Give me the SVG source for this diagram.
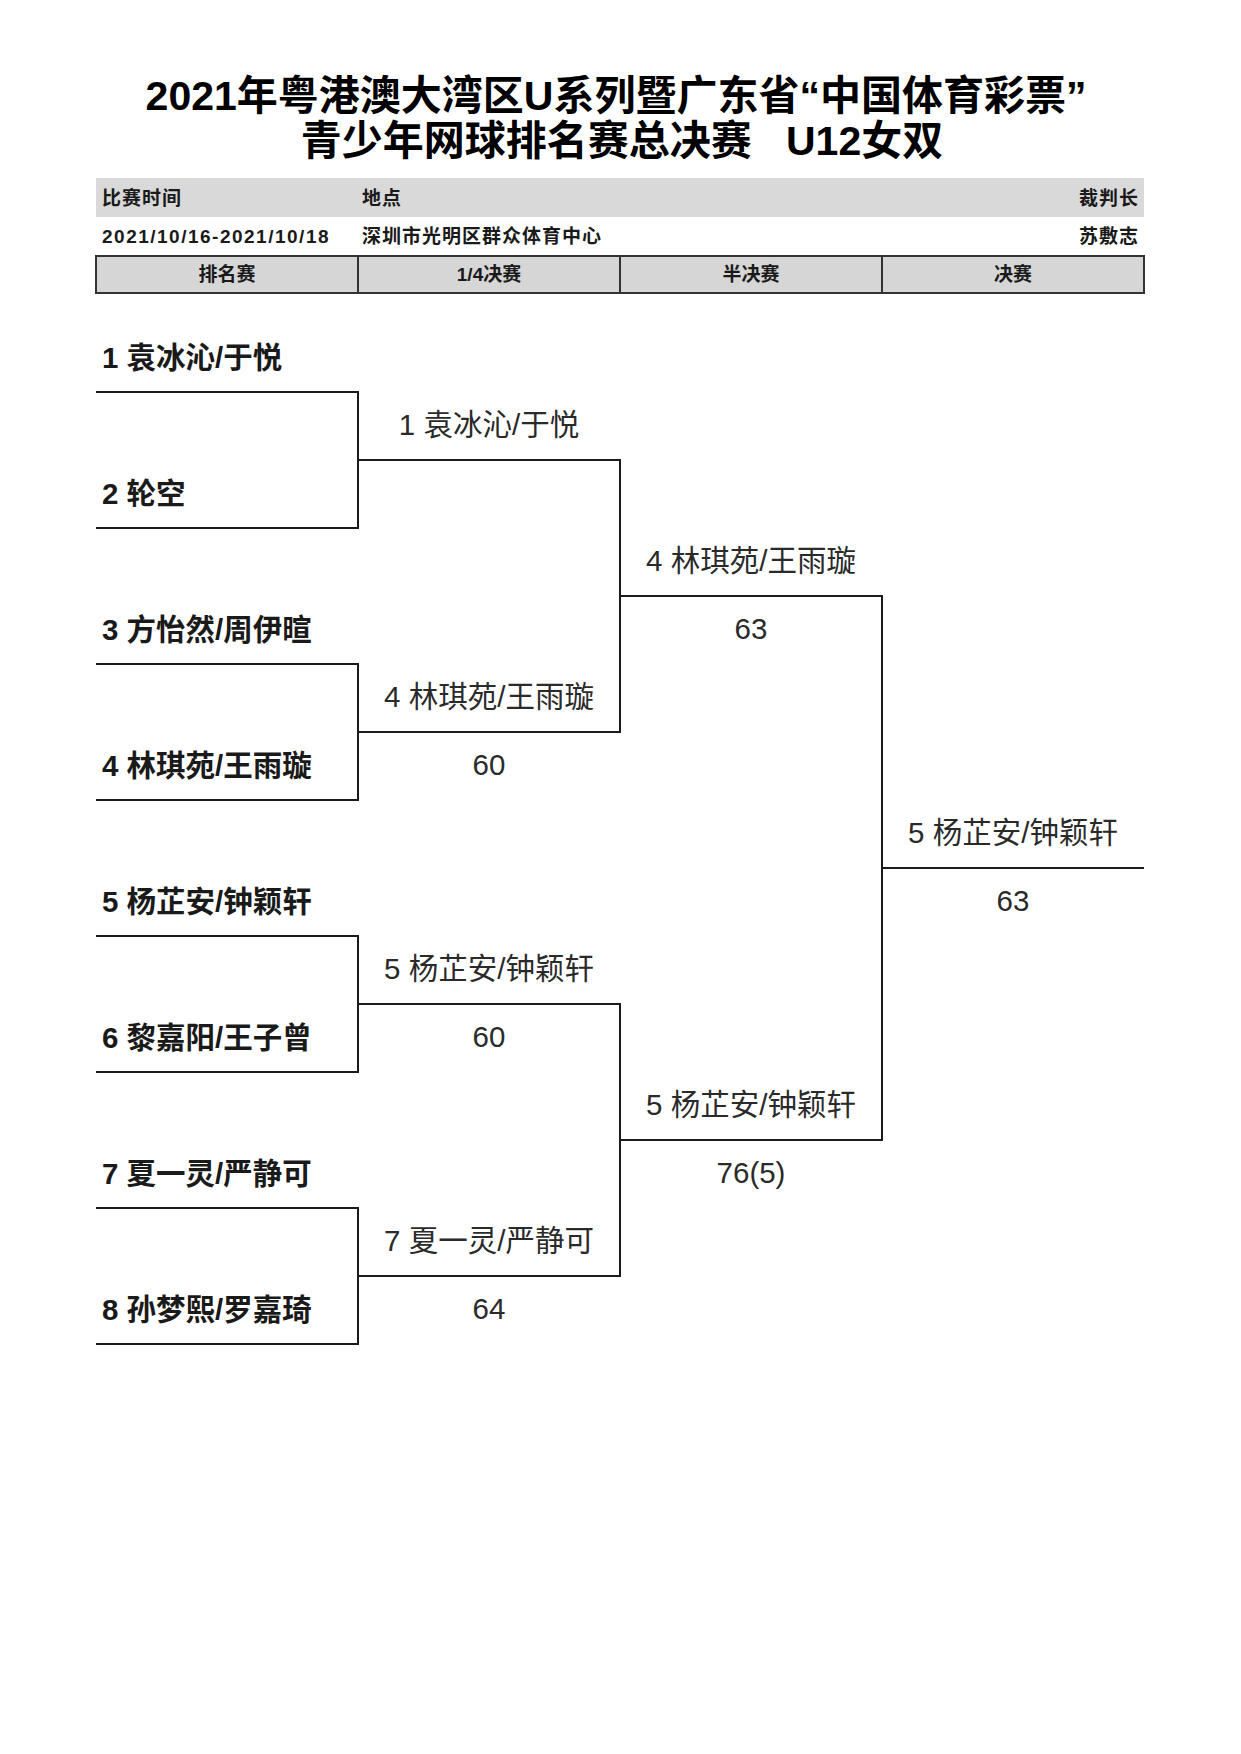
<svg xmlns="http://www.w3.org/2000/svg" width="1241" height="1754" viewBox="0 0 1241 1754">
<style>
text{font-family:"Liberation Sans","Noto Sans CJK SC",sans-serif;fill:#1a1a1a}
.title{font-size:41px;font-weight:bold;text-anchor:middle;white-space:pre;fill:#000}
.hd{font-size:19px;font-weight:bold;letter-spacing:1px}
.hc{font-size:19px;font-weight:bold;text-anchor:middle}
.seed{font-size:29.5px;font-weight:bold}
.win{font-size:29.5px;text-anchor:middle;fill:#2a2a2a}
.line{stroke:#1a1a1a;stroke-width:2;fill:none}
</style>
<rect width="1241" height="1754" fill="#fff"/>
<g id="title">
<text class="title" x="616" y="110">2021年粤港澳大湾区U系列暨广东省“中国体育彩票”</text>
<text class="title" x="622" y="155">青少年网球排名赛总决赛   U12女双</text>
</g>
<g id="header">
<rect x="96" y="178" width="1048" height="39" fill="#d9d9d9"/>
<text class="hd" x="102" y="205">比赛时间</text>
<text class="hd" x="362" y="205">地点</text>
<text class="hd" x="1139" y="205" text-anchor="end">裁判长</text>
<text class="hd" x="102" y="243" style="letter-spacing:1.5px">2021/10/16-2021/10/18</text>
<text class="hd" x="362" y="243">深圳市光明区群众体育中心</text>
<text class="hd" x="1139" y="243" text-anchor="end">苏敷志</text>
<rect x="96" y="256" width="1048" height="37" fill="#d6d6d6" stroke="#333" stroke-width="2"/>
<line x1="358" y1="256" x2="358" y2="293" stroke="#333" stroke-width="2"/>
<line x1="620" y1="256" x2="620" y2="293" stroke="#333" stroke-width="2"/>
<line x1="882" y1="256" x2="882" y2="293" stroke="#333" stroke-width="2"/>
<text class="hc" x="227" y="281">排名赛</text>
<text class="hc" x="489" y="281">1/4决赛</text>
<text class="hc" x="751" y="281">半决赛</text>
<text class="hc" x="1013" y="281">决赛</text>
</g>
<g id="r1-1"><line class="line" x1="96" y1="392" x2="358" y2="392"/><text class="seed" x="102" y="368">1 袁冰沁/于悦</text></g>
<g id="r1-2"><line class="line" x1="96" y1="528" x2="358" y2="528"/><text class="seed" x="102" y="504">2 轮空</text></g>
<g id="r1-3"><line class="line" x1="96" y1="664" x2="358" y2="664"/><text class="seed" x="102" y="640">3 方怡然/周伊暄</text></g>
<g id="r1-4"><line class="line" x1="96" y1="800" x2="358" y2="800"/><text class="seed" x="102" y="776">4 林琪苑/王雨璇</text></g>
<g id="r1-5"><line class="line" x1="96" y1="936" x2="358" y2="936"/><text class="seed" x="102" y="912">5 杨芷安/钟颖轩</text></g>
<g id="r1-6"><line class="line" x1="96" y1="1072" x2="358" y2="1072"/><text class="seed" x="102" y="1048">6 黎嘉阳/王子曾</text></g>
<g id="r1-7"><line class="line" x1="96" y1="1208" x2="358" y2="1208"/><text class="seed" x="102" y="1184">7 夏一灵/严静可</text></g>
<g id="r1-8"><line class="line" x1="96" y1="1344" x2="358" y2="1344"/><text class="seed" x="102" y="1320">8 孙梦熙/罗嘉琦</text></g>
<g id="qf-1"><line class="line" x1="358" y1="460" x2="620" y2="460"/><text class="win" x="489" y="435">1 袁冰沁/于悦</text></g>
<g id="qf-2"><line class="line" x1="358" y1="732" x2="620" y2="732"/><text class="win" x="489" y="707">4 林琪苑/王雨璇</text><text class="win" x="489" y="775">60</text></g>
<g id="qf-3"><line class="line" x1="358" y1="1004" x2="620" y2="1004"/><text class="win" x="489" y="979">5 杨芷安/钟颖轩</text><text class="win" x="489" y="1047">60</text></g>
<g id="qf-4"><line class="line" x1="358" y1="1276" x2="620" y2="1276"/><text class="win" x="489" y="1251">7 夏一灵/严静可</text><text class="win" x="489" y="1319">64</text></g>
<g id="sf-1"><line class="line" x1="620" y1="596" x2="882" y2="596"/><text class="win" x="751" y="571">4 林琪苑/王雨璇</text><text class="win" x="751" y="639">63</text></g>
<g id="sf-2"><line class="line" x1="620" y1="1140" x2="882" y2="1140"/><text class="win" x="751" y="1115">5 杨芷安/钟颖轩</text><text class="win" x="751" y="1183">76(5)</text></g>
<g id="final"><line class="line" x1="882" y1="868" x2="1144" y2="868"/><text class="win" x="1013" y="843">5 杨芷安/钟颖轩</text><text class="win" x="1013" y="911">63</text></g>
<g id="connectors">
<line class="line" x1="358" y1="391" x2="358" y2="529"/>
<line class="line" x1="358" y1="663" x2="358" y2="801"/>
<line class="line" x1="358" y1="935" x2="358" y2="1073"/>
<line class="line" x1="358" y1="1207" x2="358" y2="1345"/>
<line class="line" x1="620" y1="459" x2="620" y2="733"/>
<line class="line" x1="620" y1="1003" x2="620" y2="1277"/>
<line class="line" x1="882" y1="595" x2="882" y2="1141"/>
</g>
</svg>
